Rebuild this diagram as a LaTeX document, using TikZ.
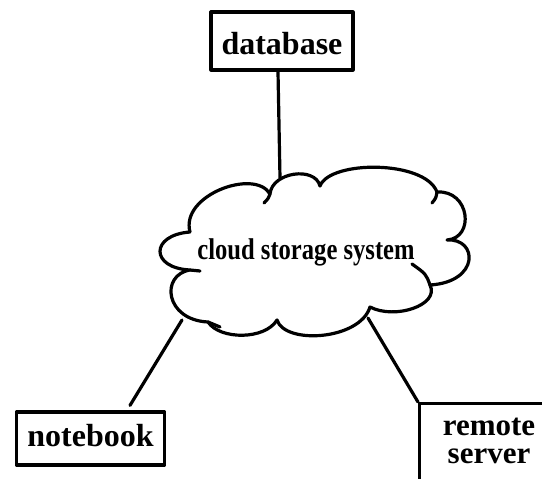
\documentclass[tikz,border=0pt]{standalone}
\usepackage{fontspec}
\setmainfont{Liberation Serif}
\begin{document}
\begin{tikzpicture}[x=1pt,y=-1pt,
  line width=3.2pt, line join=round, line cap=round,
  box/.style={draw, line width=3.2pt, inner sep=0pt, font=\fontsize{32}{34}\selectfont\bfseries},
  wire/.style={line width=3.2pt}]
\useasboundingbox (0,0) rectangle (542,479);
\begin{scope}
\clip (0,0) rectangle (542,479);

% boxes
\node[box, minimum width=142, minimum height=58, text height=26pt, text depth=0pt]
  (database) at (282,41) {database};
\node[box, minimum width=148, minimum height=53, text height=21.7pt, text depth=6.1pt]
  (notebook) at (90.5,438.5) {notebook};
\node[box, anchor=north west, minimum width=170, minimum height=120] (remote) at (418,402) {};
\node[font=\fontsize{31}{28}\selectfont\bfseries, align=center, inner sep=0pt, anchor=north]
  (remotetext) at (489,416) {remote\\server};

% cloud outline
\draw (190,232)
  .. controls (180,195) and (255,168) .. (270,194)
  .. controls (272,172) and (315,166) .. (320,186)
  .. controls (330,160) and (425,160) .. (437,192)
  .. controls (470,190) and (475,238) .. (447,240)
  .. controls (478,238) and (480,282) .. (430,285)
  .. controls (440,305) and (395,320) .. (370,307)
  .. controls (360,340) and (285,345) .. (277,320)
  .. controls (265,340) and (220,340) .. (208,322)
  .. controls (165,320) and (160,275) .. (190,270)
  .. controls (150,268) and (150,235) .. (190,232);
% small inward ends of the puffs
\draw (430,285) .. controls (426,274) .. (412,264);
\draw (270,194) .. controls (268,199) .. (264,203);
\draw (437,192) .. controls (436,198) .. (432,203);
\draw (190,270) .. controls (195,270) .. (200,271);
\draw (208,322) .. controls (214,324) .. (220,327);

\node[font=\fontsize{30}{32}\selectfont\bfseries, inner sep=0pt, anchor=base]
  (cloudlabel) at (306,259) {\scalebox{0.82}[1]{cloud storage system}};

% joints on the cloud
\coordinate (dbjoin) at (280,178);
\coordinate (nbjoin) at (182,320);
\coordinate (rsjoin) at (368,318);

% connectors
\draw[wire] ([xshift=-4]database.south) -- (dbjoin);
\draw[wire] (nbjoin) -- ([xshift=39.5,yshift=5]notebook.north);
\draw[wire] (rsjoin) -- (remote.north west);
\end{scope}
\end{tikzpicture}
\end{document}
